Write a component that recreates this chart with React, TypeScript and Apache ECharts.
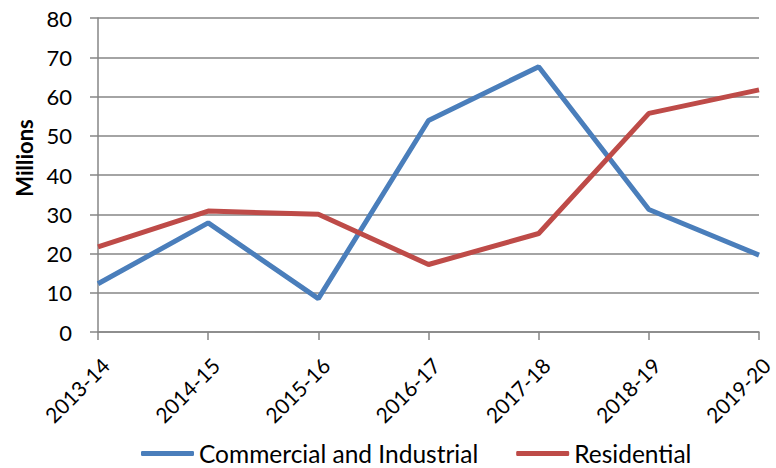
import React, { useEffect, useRef } from "react";
import * as echarts from "echarts";

const categories = ["2013-14", "2014-15", "2015-16", "2016-17", "2017-18", "2018-19", "2019-20"];
const commercial = [12.3, 27.8, 8.5, 53.9, 67.6, 31.2, 19.6];
const residential = [21.7, 30.8, 30.0, 17.2, 25.1, 55.7, 61.7];
const yTicks = { min: 0, max: 80, interval: 10 };

export default function App() {
  const ref = useRef<HTMLDivElement>(null);
  useEffect(() => {
    if (!ref.current) return;
    const chart = echarts.init(ref.current, null, { renderer: "svg" });
    const font = "Lato, 'Open Sans', sans-serif";
    chart.setOption({
      animation: false,
      textStyle: { fontFamily: font },
      grid: { left: 98, right: 9, top: 18, bottom: 136, containLabel: false },
      legend: {
        top: 439,
        left: 139,
        padding: 2,
        itemWidth: 53,
        itemHeight: 5,
        itemGap: 38,
        icon: "roundRect",
        textStyle: { fontSize: 24.5, lineHeight: 22, color: "#000", fontFamily: font },
        data: ["Commercial and Industrial", "Residential"],
      },
      xAxis: {
        type: "category",
        data: categories,
        boundaryGap: false,
        axisLine: { lineStyle: { color: "#868686", width: 1.5 } },
        axisTick: { show: true, length: 8, lineStyle: { color: "#868686", width: 1.5 } },
        axisLabel: {
          rotate: 45,
          fontSize: 21,
          color: "#000",
          margin: 22,
          verticalAlign: "top",
          fontFamily: font,
        },
        splitLine: { show: false },
      },
      yAxis: {
        type: "value",
        min: yTicks.min,
        max: yTicks.max,
        interval: yTicks.interval,
        name: "Millions",
        nameLocation: "middle",
        nameGap: 61,
        nameRotate: 90,
        nameTextStyle: {
          fontSize: 22,
          fontWeight: "bold",
          color: "#000",
          fontFamily: font,
          padding: [0, 0, 0, 34],
        },
        axisLine: { show: true, lineStyle: { color: "#868686", width: 1.5 } },
        axisTick: { show: true, length: 8, lineStyle: { color: "#868686", width: 1.5 } },
        axisLabel: { fontSize: 22, color: "#000", margin: 26, fontFamily: font },
        splitLine: { show: true, lineStyle: { color: "#868686", width: 1.5 } },
      },
      series: [
        {
          name: "Commercial and Industrial",
          type: "line",
          data: commercial,
          symbol: "none",
          lineStyle: { color: "#4A7EBB", width: 5 },
          itemStyle: { color: "#4A7EBB" },
        },
        {
          name: "Residential",
          type: "line",
          data: residential,
          symbol: "none",
          lineStyle: { color: "#BE4B48", width: 5 },
          itemStyle: { color: "#BE4B48" },
        },
      ],
    });
    return () => chart.dispose();
  }, []);
  return (
    <div
      ref={ref}
      style={{ position: "absolute", left: 0, top: 0, width: 776, height: 468 }}
    />
  );
}
